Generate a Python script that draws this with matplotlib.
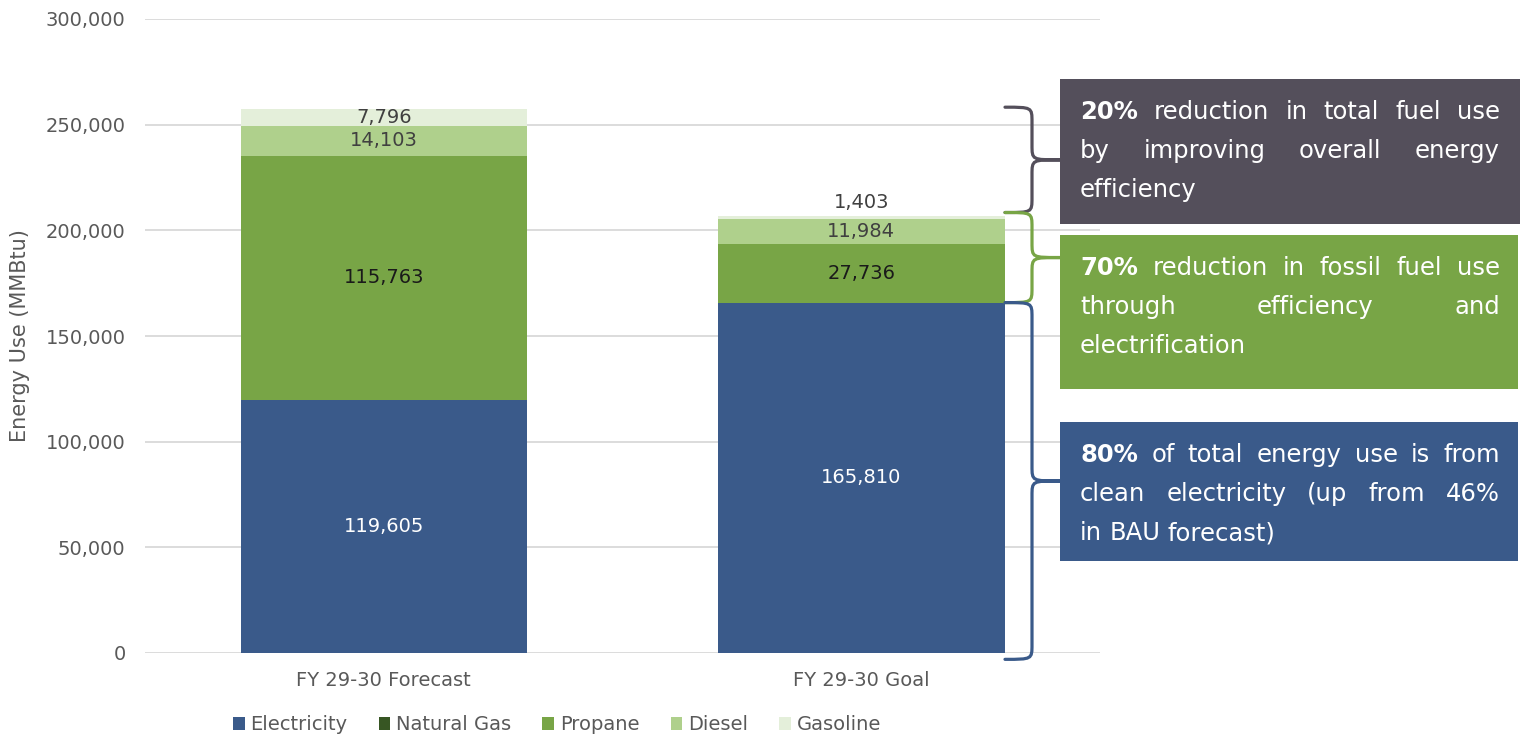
import matplotlib

matplotlib.use("Agg")
import matplotlib.pyplot as plt  # noqa: E402
import numpy as np  # noqa: E402
from matplotlib.patches import PathPatch, Rectangle  # noqa: E402
from matplotlib.path import Path  # noqa: E402
from matplotlib.transforms import blended_transform_factory  # noqa: E402

plt.rcParams["font.family"] = ["DejaVu Sans"]

# ---- data -------------------------------------------------------------
categories = ["FY 29-30 Forecast", "FY 29-30 Goal"]
fuels = ["Electricity", "Natural Gas", "Propane", "Diesel", "Gasoline"]
electricity = [119605, 165810]
natural_gas = [0, 0]
propane = [115763, 27736]
diesel = [14103, 11984]
gasoline = [7796, 1403]
y_ticks = [0, 50000, 100000, 150000, 200000, 250000, 300000]

callout_bold = ["20%", "70%", "80%"]
callout_lines = [
    ["reduction in total fuel use", "by improving overall energy", "efficiency"],
    ["reduction in fossil fuel use", "through efficiency and", "electrification"],
    ["of total energy use is from", "clean electricity (up from 46%", "in BAU forecast)"],
]

# ---- style ------------------------------------------------------------
fuel_colors = ["#3a5a8a", "#375623", "#78a546", "#afd08c", "#e4efda"]
label_colors = ["white", "#1a1a1a", "#1a1a1a", "#404040", "#404040"]
box_colors = ["#544f5b", "#78a546", "#3a5a8a"]
text_gray = "#595959"

W, H = 1528, 738
fig = plt.figure(figsize=(W / 100, H / 100), dpi=100)
ax = fig.add_axes([145 / W, 85 / H, 955 / W, 634 / H])

series = [electricity, natural_gas, propane, diesel, gasoline]
x = np.arange(len(categories))
bottom = np.zeros(len(categories))
for name, vals, col, lcol in zip(fuels, series, fuel_colors, label_colors):
    vals = np.array(vals, dtype=float)
    ax.bar(x, vals, 0.6, bottom=bottom, color=col, label=name, zorder=2)
    for i, v in enumerate(vals):
        if v <= 0:
            continue
        if name == "Gasoline" and v < 3000:
            ax.annotate(f"{v:,.0f}", (x[i], bottom[i] + v), xytext=(0, 3),
                        textcoords="offset points", ha="center", va="bottom",
                        fontsize=14, color=lcol)
        else:
            ax.text(x[i], bottom[i] + v / 2, f"{v:,.0f}", ha="center", va="center",
                    fontsize=14, color=lcol, zorder=3)
    bottom += vals
totals = bottom.copy()

ax.set_xlim(-0.5, 1.5)
ax.set_ylim(0, 300000)
ax.set_yticks(y_ticks)
ax.set_yticklabels([f"{t:,}" for t in y_ticks])
ax.set_xticks(x)
ax.set_xticklabels(categories)
ax.tick_params(length=0, labelsize=14, labelcolor=text_gray)
ax.tick_params(axis="y", pad=14)
ax.tick_params(axis="x", pad=13)
ax.yaxis.grid(True, color="#d9d9d9", lw=1.3, zorder=0)
ax.set_axisbelow(True)
for s in ax.spines.values():
    s.set_visible(False)
ax.set_ylabel("Energy Use (MMBtu)", fontsize=15, color=text_gray)
ax.yaxis.set_label_coords(-0.12, 0.5)

fig.legend(loc="center", bbox_to_anchor=(557 / W, 13 / H), ncol=5, frameon=False,
           fontsize=14, labelcolor=text_gray, handlelength=0.6, handleheight=0.6,
           handletextpad=0.3, columnspacing=1.6)

# ---- overlay (pixel coords) for braces and callouts --------------------
ov = fig.add_axes([0, 0, 1, 1], zorder=5)
ov.set_xlim(0, W)
ov.set_ylim(H, 0)
ov.axis("off")

# braces: x in pixels, y in data units of the bar axes
tr = blended_transform_factory(ov.transData, ax.transData)
r = 7000.0


def brace(y_top, y_bot, color, x0=1005, xs=1032, xt=1060):
    ym = (y_top + y_bot) / 2
    verts = [(x0, y_top), (xs, y_top), (xs, y_top), (xs, y_top - r),
             (xs, ym + r),
             (xs, ym), (xs, ym), (xt, ym),
             (xs, ym), (xs, ym), (xs, ym - r),
             (xs, y_bot + r),
             (xs, y_bot), (xs, y_bot), (x0, y_bot)]
    codes = [Path.MOVETO, Path.CURVE4, Path.CURVE4, Path.CURVE4,
             Path.LINETO,
             Path.CURVE4, Path.CURVE4, Path.CURVE4,
             Path.CURVE4, Path.CURVE4, Path.CURVE4,
             Path.LINETO,
             Path.CURVE4, Path.CURVE4, Path.CURVE4]
    ov.add_patch(PathPatch(Path(verts, codes), transform=tr, fill=False,
                           edgecolor=color, lw=2.3, capstyle="round", clip_on=False))


brace(totals[0] + 1000, totals[1] + 1500, box_colors[0])
brace(totals[1] + 1500, electricity[1], box_colors[1])
brace(electricity[1], -3000, box_colors[2])

boxes = [(1060, 79, 460, 145), (1060, 235, 458, 154), (1060, 422, 458, 139)]
fig.canvas.draw()
renderer = fig.canvas.get_renderer()
fs = 17.5
tx0, tx1 = 1080, 1500
for (bx, by, bw, bh), col, bold, lines in zip(boxes, box_colors, callout_bold, callout_lines):
    ov.add_patch(Rectangle((bx, by), bw, bh, facecolor=col, edgecolor="none"))
    for li, line in enumerate(lines):
        words = line.split()
        weights = ["normal"] * len(words)
        if li == 0:
            words = [bold] + words
            weights = ["bold"] + weights
        yy = by + 32 + 39 * li + 8
        arts = [ov.text(0, yy, w, color="white", fontsize=fs, fontweight=wt,
                        va="baseline", ha="left") for w, wt in zip(words, weights)]
        widths = [a.get_window_extent(renderer).width for a in arts]
        last = li == len(lines) - 1
        gap = fs * 0.42 if last else (tx1 - tx0 - sum(widths)) / (len(words) - 1)
        xx = tx0
        for a, wd in zip(arts, widths):
            a.set_x(xx)
            xx += wd + gap

fig.savefig("out.png", dpi=100)
plt.close(fig)
